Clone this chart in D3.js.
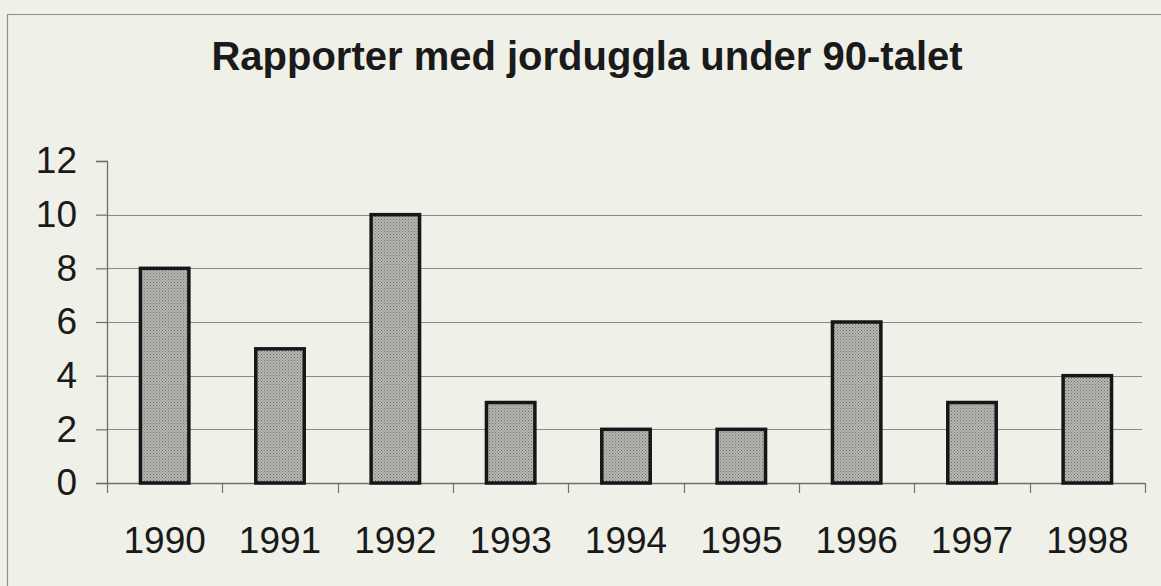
<!DOCTYPE html>
<html>
<head>
<meta charset="utf-8">
<script src="https://cdn.jsdelivr.net/npm/d3@7.9.0/dist/d3.min.js"></script>
<style>
  html, body { margin: 0; padding: 0; background: #eff0e8; }
  svg { display: block; }
  text { font-family: "Liberation Sans", Arial, Helvetica, sans-serif; fill: #1a1a1a; }
</style>
</head>
<body>
<svg id="chart" width="1161" height="586"></svg>
<script>
// data
var years = ['1990', '1991', '1992', '1993', '1994', '1995', '1996', '1997', '1998']
var reports = [8, 5, 10, 3, 2, 2, 6, 3, 4]
var yTicks = [0, 2, 4, 6, 8, 10, 12]
var title = 'Rapporter med jorduggla under 90-talet'

var W = 1161, H = 586
var plot = { left: 107, right: 1145, top: 161, bottom: 483 }

var svg = d3.select('#chart')

// stippled grey fill like the printed bars
var defs = svg.append('defs')
var pat = defs.append('pattern')
    .attr('id', 'stipple')
    .attr('patternUnits', 'userSpaceOnUse')
    .attr('width', 3).attr('height', 3)
pat.append('rect').attr('width', 3).attr('height', 3).attr('fill', '#b6b7b3')
pat.append('rect').attr('x', 0).attr('y', 0).attr('width', 1).attr('height', 1).attr('fill', '#6e6f6c')
pat.append('rect').attr('x', 1.5).attr('y', 1.5).attr('width', 1).attr('height', 1).attr('fill', '#80817d')

// page background + frame of the chart box
svg.append('rect').attr('width', W).attr('height', H).attr('fill', '#eff0e8')
svg.append('path')
    .attr('d', 'M7.5,' + H + 'V14.5H' + W)
    .attr('fill', 'none')
    .attr('stroke', '#8d8f8a')
    .attr('stroke-width', 1.2)

var x = d3.scaleBand()
    .domain(years)
    .range([plot.left, plot.right])
    .paddingInner(0.58)
    .paddingOuter(0.29)

var y = d3.scaleLinear()
    .domain([0, 12])
    .range([plot.bottom, plot.top])

// gridlines (none at the top value)
svg.append('g')
    .selectAll('line')
    .data(yTicks.filter(function (t) { return t > 0 && t < 12 }))
    .enter()
    .append('line')
    .attr('x1', plot.left)
    .attr('x2', plot.right - 3)
    .attr('y1', function (d) { return Math.round(y(d)) + 0.5 })
    .attr('y2', function (d) { return Math.round(y(d)) + 0.5 })
    .attr('stroke', '#8a8b87')
    .attr('stroke-width', 1.2)

// y axis
var yAxis = d3.axisLeft(y)
    .tickValues(yTicks)
    .tickSize(11)
    .tickPadding(19)
    .tickFormat(d3.format('d'))
var gy = svg.append('g')
    .attr('transform', 'translate(' + plot.left + ',0)')
    .call(yAxis)
gy.select('.domain').attr('stroke', '#6f706c').attr('stroke-width', 1.3)
gy.selectAll('.tick line').attr('stroke', '#6f706c').attr('stroke-width', 1.2)
gy.selectAll('.tick text')
    .attr('font-size', '37px')
    .attr('fill', '#1a1a1a')
    .attr('font-family', '"Liberation Sans", Arial, sans-serif')

// x axis: ticks at category boundaries, labels under the bars
var bounds = d3.range(years.length + 1).map(function (i) {
    return x.range()[0] + i * x.step()
})
svg.append('line')
    .attr('x1', plot.left).attr('x2', plot.right)
    .attr('y1', plot.bottom + 0.5).attr('y2', plot.bottom + 0.5)
    .attr('stroke', '#6f706c').attr('stroke-width', 1.3)
svg.append('g')
    .selectAll('line')
    .data(bounds)
    .enter()
    .append('line')
    .attr('x1', function (d) { return Math.round(d) + 0.5 })
    .attr('x2', function (d) { return Math.round(d) + 0.5 })
    .attr('y1', plot.bottom)
    .attr('y2', plot.bottom + 10)
    .attr('stroke', '#6f706c')
    .attr('stroke-width', 1.2)

svg.append('g')
    .selectAll('text')
    .data(years)
    .enter()
    .append('text')
    .attr('x', function (d) { return x(d) + x.bandwidth() / 2 })
    .attr('y', 553)
    .attr('text-anchor', 'middle')
    .attr('font-size', '37px')
    .text(function (d) { return d })

// bars
svg.append('g')
    .selectAll('rect')
    .data(reports)
    .enter()
    .append('rect')
    .attr('x', function (d, i) { return x(years[i]) })
    .attr('y', function (d) { return y(d) })
    .attr('width', x.bandwidth())
    .attr('height', function (d) { return y(0) - y(d) })
    .attr('fill', 'url(#stipple)')
    .attr('stroke', '#161616')
    .attr('stroke-width', 3.5)

// title
svg.append('text')
    .attr('x', 587)
    .attr('y', 70)
    .attr('text-anchor', 'middle')
    .attr('font-size', '40px')
    .attr('font-weight', 'bold')
    .attr('fill', '#151515')
    .text(title)
</script>
</body>
</html>
